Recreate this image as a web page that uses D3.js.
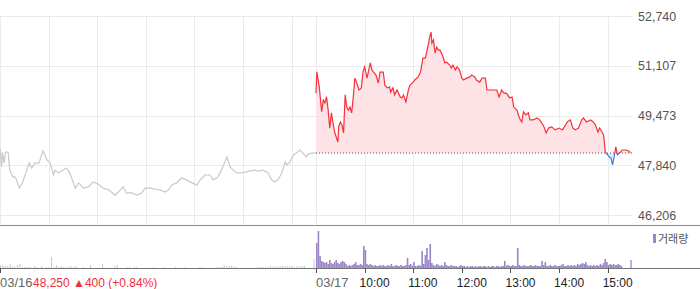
<!DOCTYPE html>
<html>
<head>
<meta charset="utf-8">
<script src="https://cdn.jsdelivr.net/npm/d3@7"></script>
<style>
body { margin: 0; background: #fff; }
svg { display: block; font-family: "Liberation Sans", Arial, sans-serif; }
</style>
</head>
<body>
<script>
// price axis labels and reference price
var priceTicks = [46206, 47840, 49473, 51107, 52740];
var prevClose = 48240;
var dayLabels = ["03/16", "03/17"];
var hourLabels = ["10:00", "11:00", "12:00", "13:00", "14:00", "15:00"];
var lastPriceText = "48,250";
var changeText = "\u25B2400 (+0.84%)";

// 03/16 (minutes after 09:00)
var day1Min = [0,2,3,5,7,10,12,16,19,24,28,33,36,39,43,48,53,58,62,66,68,72,78,82,86,93,97,103,109,115,121,127,134,142,146,152,156,163,169,175,179,185,191,197,204,208,212,218,224,230,237,243,247,253,259,263,269,275,280,284,288,292,298,304,313,319,325,331,335,339,343,348,352,354,358,362,366,370,374,378,380,385,390];
var day1Price = [48410,47780,48270,47910,48270,48270,47680,47450,47450,47090,47290,47680,47910,47750,47910,47910,48310,48010,47910,47520,47680,47590,47680,47750,47590,47090,47260,47090,47130,47290,47220,47090,47030,46860,46960,47130,46930,46930,46860,46930,47090,47090,47060,47030,46960,47030,47190,47260,47420,47360,47260,47190,47360,47520,47520,47360,47450,47780,48110,47780,47680,47590,47590,47620,47680,47650,47680,47590,47360,47290,47360,47590,47950,47850,47950,48180,48240,48340,48240,48110,48210,48240,48240];

// 03/17 (minutes after 09:00)
var day2Min = [0,1,4,7,9,11,13,15,17,19,21,23,27,28,30,32,34,36,38,40,42,44,46,48,50,53,56,58,60,63,67,69,71,74,77,79,83,85,88,91,92,95,97,100,104,106,108,111,114,116,120,122,126,129,132,135,139,140,142,143,145,147,149,151,153,156,159,161,165,167,169,172,174,177,180,182,186,190,192,196,198,202,205,209,211,217,223,226,229,232,235,239,242,244,248,251,254,256,259,262,264,268,273,276,281,284,287,291,295,300,304,308,310,314,317,320,324,328,330,334,339,342,345,348,350,353,355,357,360,362,364,366,368,370,372,374,376,378,382,386,388];
var day2Price = [50200,50910,50420,49600,49980,49880,50090,49650,49060,49560,49230,48930,48600,49100,49260,49160,48900,50150,49750,49650,49750,49560,50080,50700,50570,50310,50380,50900,51070,50700,51200,50970,50900,50800,50540,50900,50900,50470,50380,50410,50240,50380,50150,50310,50080,50050,50150,49920,50310,50470,50570,50640,50740,50900,51360,51360,51850,52020,52210,51850,51950,51520,51720,51620,51620,51460,51200,51230,51130,51030,51130,50970,51070,50970,50700,50640,50700,50740,50800,50740,50640,50570,50700,50700,50310,50310,50310,50080,50310,50210,50210,50050,50080,49750,49650,49390,49260,49590,49490,49560,49330,49330,49390,49330,49130,48900,49060,49100,49000,49060,49000,49160,49260,49330,49060,49000,49060,49330,49390,49260,49330,49260,49160,48930,49060,48930,48830,48270,48180,48110,48080,47850,48110,48440,48180,48240,48270,48340,48340,48310,48250];

// volume, 03/16 in 3-minute bins, 03/17 in 2-minute bins
var day1Vol = [3,3,2,2,4,2,1,3,4,1, 1,1,1,0,2,1,0,2,0,1, 1,11,1,3,1,2,1,1,1,2, 1,2,0,0,1,0,0,3,0,0,
               0,0,4,0,0,0,0,2,3,0, 0,0,1,1,0,1,1,0,0,0, 0,0,0,1,0,0,0,1,0,0, 0,0,1,0,0,0,1,0,0,0,
               0,0,1,1,0,0,0,0,0,1, 1,1,3,2,2,2,2,1,0,0, 0,0,0,0,0,0,1,1,1,1, 1,2,1,2,1,2,2,2,2,2,
               2,1,2,1,2,2,0,0,0,9];
var day2Vol = [25,37,12,7,6,5,6,4,8,5, 4,6,8,5,4,6,7,6,4,2, 3,2,3,4,6,3,3,4,3,22, 18,4,3,4,3,2,3,2,2,3,
               2,3,2,2,3,2,4,2,2,3, 2,2,3,2,2,3,10,3,4,2, 6,2,2,3,2,17,4,13,20,8, 24,5,3,2,4,3,2,3,2,6,
               3,2,2,3,2,2,2,1,2,3, 2,2,1,2,1,2,2,1,2,1, 2,2,1,2,2,1,2,1,2,2, 1,2,2,1,2,2,7,2,3,2,
               2,3,2,2,20,3,2,2,3,2, 2,2,3,2,2,3,2,2,2,7, 3,6,2,2,3,2,2,3,2,2, 2,3,4,2,2,3,2,3,2,3,
               2,4,3,4,5,4,6,3,2,3, 2,3,2,3,2,4,3,5,9,6, 3,4,3,4,3,3,4,3,2,0];
var day2CloseMin = 388, day2CloseVol = 8;

var W = 700, H = 289, plotRight = 632;

var svg = d3.select("body").append("svg")
    .attr('width', W)
    .attr('height', H);

var x = d3.scaleLinear().domain([0, 780]).range([0, plotRight]),
    y = d3.scaleLinear().domain([46206, 52740]).range([215, 16]),
    vy = d3.scaleLinear().domain([0, 42]).range([268, 226]);

var day1 = day1Min.map(function(m, i){ return {t: m, p: day1Price[i]}; }),
    day2 = day2Min.map(function(m, i){ return {t: 390 + m, p: day2Price[i]}; });

// grid
var grid = svg.append("g");
grid.selectAll("line.h").data(priceTicks).enter().append("line")
    .attr('x1', 0).attr('x2', plotRight)
    .attr('y1', function(d){ return Math.round(y(d)) + 0.5; })
    .attr('y2', function(d){ return Math.round(y(d)) + 0.5; })
    .style('stroke', "#ebebeb");

// hourly lines of both sessions
var vTicks = [0,60,120,180,240,300,360,390,450,510,570,630,690,750];
grid.selectAll("line.v").data(vTicks).enter().append("line")
    .attr('x1', function(d){ return Math.round(x(d)) + 0.5; })
    .attr('x2', function(d){ return Math.round(x(d)) + 0.5; })
    .attr('y1', 16).attr('y2', 225)
    .style('stroke', "#ebebeb");

// price labels
svg.append("g").selectAll("text").data(priceTicks).enter().append("text")
    .attr('x', 638)
    .attr('y', function(d){ return y(d) + 4.5; })
    .text(function(d){ return d3.format(",")(d); })
    .style('font-size', "12.5px")
    .style('fill', "#555");

// area + lines for 03/17, split at previous close
var base = y(prevClose);
var defs = svg.append("defs");
defs.append("clipPath").attr('id', "above")
    .append("rect").attr('x', 0).attr('y', 0).attr('width', W).attr('height', base);
defs.append("clipPath").attr('id', "below")
    .append("rect").attr('x', 0).attr('y', base).attr('width', W).attr('height', H - base);

var area = d3.area()
    .x(function(d){ return x(d.t); })
    .y0(base)
    .y1(function(d){ return y(d.p); });
var line = d3.line()
    .x(function(d){ return x(d.t); })
    .y(function(d){ return y(d.p); });

svg.append("path").datum(day2).attr('d', area)
    .attr('clip-path', "url(#above)").style('fill', "#fde3e6");
svg.append("path").datum(day2).attr('d', area)
    .attr('clip-path', "url(#below)").style('fill', "#e3ecfb");

svg.append("line")
    .attr('x1', x(390)).attr('x2', plotRight)
    .attr('y1', base).attr('y2', base)
    .style('stroke', "#555")
    .style('stroke-dasharray', "1,2");

svg.append("path").datum(day1).attr('d', line)
    .style('fill', "none").style('stroke', "#c6c9ce").style('stroke-width', 1.2);

svg.append("path").datum(day2).attr('d', line)
    .attr('clip-path', "url(#above)")
    .style('fill', "none").style('stroke', "#f7303a").style('stroke-width', 1.2);
svg.append("path").datum(day2).attr('d', line)
    .attr('clip-path', "url(#below)")
    .style('fill', "none").style('stroke', "#3a7be0").style('stroke-width', 1.2);

// separators
svg.append("line").attr('x1', 0).attr('x2', W).attr('y1', 225.5).attr('y2', 225.5)
    .style('stroke', "#8a8a8a");
svg.append("line").attr('x1', 0).attr('x2', W).attr('y1', 268.5).attr('y2', 268.5)
    .style('stroke', "#777");

// volume bars
svg.append("g").selectAll("rect").data(day1Vol).enter().append("rect")
    .attr('x', function(d, i){ return x(i * 3); })
    .attr('width', 1)
    .attr('y', function(d){ return vy(d); })
    .attr('height', function(d){ return vy(0) - vy(d); })
    .style('fill', "#c4c7cc");
svg.append("g").selectAll("rect").data(day2Vol).enter().append("rect")
    .attr('x', function(d, i){ return x(390 + i * 2); })
    .attr('width', x(2) - x(0))
    .attr('y', function(d){ return vy(d); })
    .attr('height', function(d){ return vy(0) - vy(d); })
    .style('fill', "#9b86c8");
svg.append("rect")
    .attr('x', x(390 + day2CloseMin)).attr('width', 1.3)
    .attr('y', vy(day2CloseVol)).attr('height', vy(0) - vy(day2CloseVol))
    .style('fill', "#9b86c8");

// legend
svg.append("rect").attr('x', 653).attr('y', 234).attr('width', 3).attr('height', 9)
    .style('fill', "#9b86c8");
svg.append("text").attr('x', 658).attr('y', 243)
    .text("거래량")
    .style('font-family', "'Noto Sans CJK KR'")
    .style('font-size', "11px")
    .style('fill', "#555");

// time axis ticks
var axisTicks = [0,390,450,510,570,630,690,750];
svg.append("g").selectAll("line").data(axisTicks).enter().append("line")
    .attr('x1', function(d){ return Math.round(x(d)) + 0.5; })
    .attr('x2', function(d){ return Math.round(x(d)) + 0.5; })
    .attr('y1', 268).attr('y2', 273)
    .style('stroke', "#555");

svg.append("text").attr('x', x(0)).attr('y', 287)
    .text(dayLabels[0]).style('font-size', "13px").style('fill', "#666");
svg.append("text").attr('x', x(390)).attr('y', 287)
    .text(dayLabels[1]).style('font-size', "13px").style('fill', "#666");
svg.append("text").attr('x', 33).attr('y', 287)
    .text(lastPriceText + " " + changeText)
    .style('font-size', "12px").style('fill', "#f0303a");

svg.append("g").selectAll("text").data(hourLabels).enter().append("text")
    .attr('x', function(d, i){ return x(450 + i * 60) - 5; })
    .attr('y', 287)
    .text(function(d){ return d; })
    .style('font-size', "12px")
    .style('fill', "#222");
</script>
</body>
</html>
